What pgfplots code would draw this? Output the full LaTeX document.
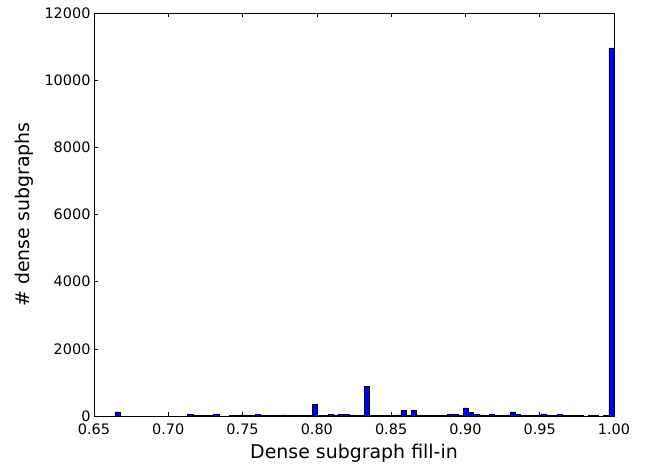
\documentclass[border=0pt]{standalone}
\usepackage{fontspec}
\setmainfont{DejaVu Sans}
\usepackage{pgfplots}
\usepackage{pgfplotstable}
\pgfplotsset{compat=1.18}
\usetikzlibrary{calc}

% histogram bins: left edge, count (last row closes the final bin)
\pgfplotstableread{
x y
0.6500 0
0.6535 0
0.6570 0
0.6605 0
0.6640 120
0.6675 0
0.6710 0
0.6745 0
0.6780 0
0.6815 0
0.6850 0
0.6885 0
0.6920 0
0.6955 0
0.6990 0
0.7025 0
0.7060 0
0.7095 0
0.7130 40
0.7165 15
0.7200 15
0.7235 10
0.7270 15
0.7305 60
0.7340 0
0.7375 0
0.7410 15
0.7445 15
0.7480 30
0.7515 15
0.7550 10
0.7585 50
0.7620 20
0.7655 15
0.7690 10
0.7725 10
0.7760 30
0.7795 10
0.7830 10
0.7865 15
0.7900 10
0.7935 10
0.7970 350
0.8005 20
0.8040 15
0.8075 50
0.8110 30
0.8145 50
0.8180 40
0.8215 30
0.8250 25
0.8285 20
0.8320 890
0.8355 20
0.8390 15
0.8425 15
0.8460 25
0.8495 20
0.8530 30
0.8565 160
0.8600 25
0.8635 160
0.8670 30
0.8705 25
0.8740 20
0.8775 15
0.8810 25
0.8845 20
0.8880 45
0.8915 45
0.8950 30
0.8985 240
0.9020 100
0.9055 40
0.9090 30
0.9125 20
0.9160 50
0.9195 25
0.9230 20
0.9265 30
0.9300 120
0.9335 50
0.9370 20
0.9405 20
0.9440 15
0.9475 30
0.9510 60
0.9545 30
0.9580 10
0.9615 40
0.9650 15
0.9685 10
0.9720 10
0.9755 15
0.9790 0
0.9825 10
0.9860 10
0.9895 0
0.9930 10
0.9965 10960
1.0000 0
}\histdata

\newcommand\tickfont{\fontsize{14.5}{17}\selectfont}
\newcommand\labelfont{\fontsize{19}{22}\selectfont}

\begin{document}
\begin{tikzpicture}[x=1bp,y=1bp]
\begin{axis}[
  scale only axis, width=520bp, height=403bp,
  xmin=0.65, xmax=1.0, ymin=0, ymax=12000,
  xtick={0.65,0.70,...,1.001}, ytick={0,2000,...,12000},
  xticklabel style={font=\tickfont, yshift=-4bp,
    /pgf/number format/.cd, fixed, fixed zerofill, precision=2},
  yticklabel style={font=\tickfont, /pgf/number format/.cd, 1000 sep={}},
  /pgf/number format/assume math mode=true,
  xlabel={Dense subgraph fill-in}, ylabel={\# dense subgraphs},
  xlabel style={font=\labelfont, yshift=-3bp},
  ylabel style={font=\labelfont, yshift=4bp},
  tick align=inside, major tick length=4bp,
  axis line style={line width=0.8pt}, every tick/.style={black, line width=0.6pt},
  scaled y ticks=false,
]
\addplot[ybar interval, fill={rgb,1:red,0;green,0;blue,1}, draw=black, line width=0.6pt]
  table[x=x, y=y] {\histdata};
\end{axis}
\path ($(current axis.south west)+(-94bp,-48bp)$) rectangle ($(current axis.north east)+(32bp,13bp)$);
\end{tikzpicture}
\end{document}
